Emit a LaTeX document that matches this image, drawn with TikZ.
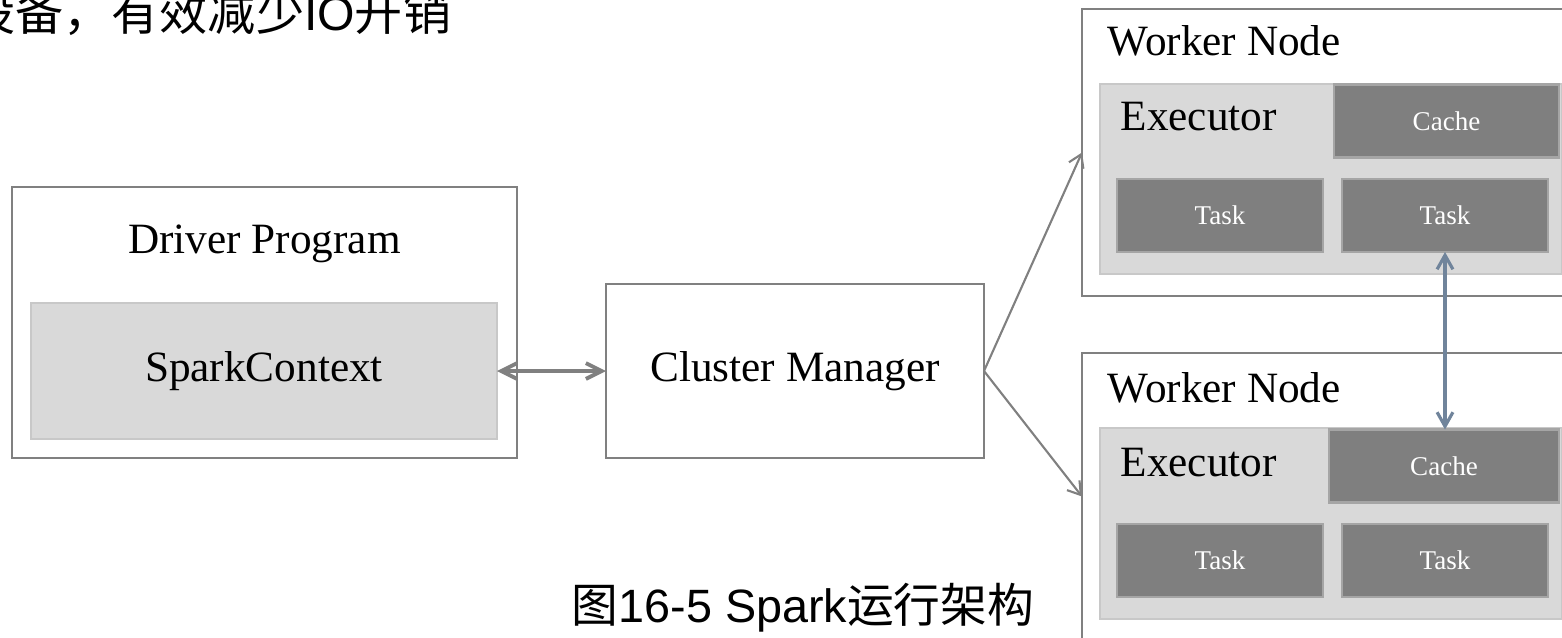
\documentclass[tikz,border=0pt]{standalone}
\usepackage{fontspec}
\setmainfont{Liberation Serif}
\setsansfont{Liberation Sans}
\newfontfamily\cjk{Noto Sans CJK SC}
\usepackage{xcolor}
\usepackage{tikz}
\usetikzlibrary{arrows.meta, positioning, calc}
\definecolor{boxline}{RGB}{128, 128, 128}
\definecolor{lightfill}{RGB}{217, 217, 217}
\definecolor{lightline}{RGB}{200, 200, 200}
\definecolor{darkfill}{RGB}{127, 127, 127}
\definecolor{darkline}{RGB}{165, 165, 165}
\definecolor{linkblue}{RGB}{112, 132, 155}

\begin{document}
\begin{tikzpicture}[
    bigtext/.style={font=\fontsize{12.3}{14}\selectfont, inner sep=0pt},
    outer/.style={rectangle, draw=boxline, line width=0.6pt, fill=white,
                  inner sep=0pt, outer sep=0pt},
    inner/.style={rectangle, draw=lightline, line width=0.6pt, fill=lightfill,
                  inner sep=0pt, outer sep=0pt},
    task/.style={rectangle, draw=darkline, line width=0.6pt, fill=darkfill,
                 minimum width=2.06cm, minimum height=0.73cm, inner sep=0pt, outer sep=0pt,
                 text=white, font=\fontsize{7.7}{9}\selectfont},
    link/.style={draw=boxline, line width=0.6pt, -{Straight Barb[length=3.5pt, width=4.5pt]}},
    dlink/.style={draw=boxline, line width=1.1pt,
                  {Straight Barb[length=4.5pt, width=4.5pt]}-{Straight Barb[length=4.5pt, width=4.5pt]}},
    vlink/.style={draw=linkblue, line width=0.9pt,
                  {Straight Barb[length=4pt, width=4.5pt]}-{Straight Barb[length=4pt, width=4.5pt]}}
]
\useasboundingbox (0,0) rectangle (15.62,6.37);
\clip (0,0) rectangle (15.62,6.37);

% Text above
\node[anchor=base east, inner sep=0pt, font=\fontsize{13.7}{16}\selectfont]
    (above) at (4.52,6.07) {\cjk 设备，有效减少{\sffamily IO}开销};

% Driver
\node[outer, minimum width=5.05cm, minimum height=2.71cm] (driver) at (2.645,3.145) {};
\node[bigtext, anchor=base] (drivertitle) at (2.645,3.84) {Driver Program};
\node[inner, bigtext, minimum width=4.66cm, minimum height=1.36cm] (sc) at (2.64,2.66) {SparkContext};

% Cluster manager
\node[outer, bigtext, minimum width=3.78cm, minimum height=1.74cm] (cm) at (7.95,2.66) {Cluster Manager};

% Worker 1
\node[outer, minimum width=4.98cm, minimum height=2.87cm] (w1) at (13.31,4.845) {};
\node[bigtext, anchor=base west] (w1title) at (11.07,5.82) {Worker Node};
\node[inner, minimum width=4.62cm, minimum height=1.90cm] (e1) at (13.31,4.58) {};
\node[bigtext, anchor=base west] (e1title) at (11.20,5.07) {Executor};
\node[task, minimum width=2.25cm] (c1) at (14.465,5.16) {Cache};
\node[task] (t1a) at (12.20,4.215) {Task};
\node[task, right=0.19cm of t1a] (t1b) {Task};

% Worker 2
\node[outer, minimum width=4.98cm, minimum height=2.87cm] (w2) at (13.31,1.405) {};
\node[bigtext, anchor=base west] (w2title) at (11.07,2.35) {Worker Node};
\node[inner, minimum width=4.62cm, minimum height=1.91cm] (e2) at (13.31,1.135) {};
\node[bigtext, anchor=base west] (e2title) at (11.20,1.61) {Executor};
\node[task, minimum width=2.30cm] (c2) at (14.44,1.71) {Cache};
\node[task] (t2a) at (12.20,0.765) {Task};
\node[task, right=0.19cm of t2a] (t2b) {Task};

% Caption
\node[anchor=base, inner sep=0pt, font=\fontsize{13.3}{16}\selectfont]
    (caption) at (8.03,0.15) {\cjk 图{\sffamily 16-5 Spark}运行架构};

% Arrows
\draw[dlink] (sc.east) -- (cm.west);
\draw[link] (cm.east) -- (w1.west);
\draw[link] (cm.east) -- (w2.west);
\draw[vlink] (t1b.south) -- (t1b.south |- c2.north);

\end{tikzpicture}
\end{document}
